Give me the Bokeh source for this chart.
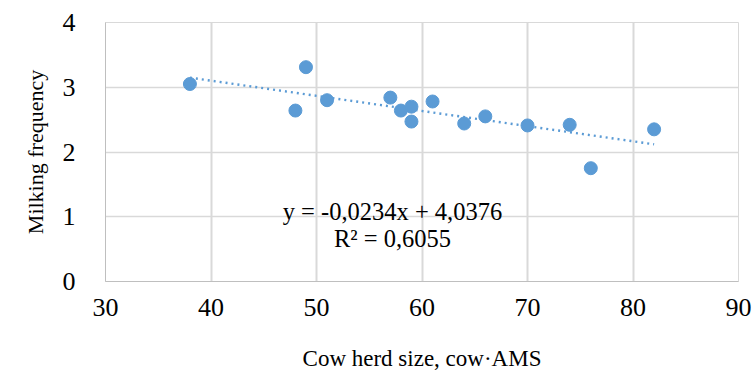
from bokeh.plotting import figure
from bokeh.models import Range1d, FixedTicker, Label, ColumnDataSource
from bokeh.embed import file_html
from bokeh.resources import INLINE

herd_size = [38, 49, 48, 51, 57, 58, 59, 59, 61, 64, 66, 70, 74, 76, 82]
milking_freq = [3.05, 3.31, 2.64, 2.80, 2.84, 2.64, 2.70, 2.47, 2.78, 2.44, 2.55, 2.41, 2.42, 1.75, 2.35]
slope = -0.0234
intercept = 4.0376
eq_text = "y = -0,0234x + 4,0376"
r2_text = "R² = 0,6055"
x_ticks = [30, 40, 50, 60, 70, 80, 90]
y_ticks = [0, 1, 2, 3, 4]

FONT = "Liberation Serif"
BLUE = "#5B9BD5"
GRID = "#D9D9D9"

p = figure(width=753, height=379, output_backend="svg", toolbar_location=None,
           x_range=Range1d(30, 90), y_range=Range1d(0, 4),
           min_border_left=105, min_border_right=15, min_border_top=22, min_border_bottom=98)
p.outline_line_color = GRID

trend_x = [min(herd_size), max(herd_size)]
trend_y = [slope * v + intercept for v in trend_x]
p.line(trend_x, trend_y, line_color=BLUE, line_width=2.4, line_dash="2 4")

src = ColumnDataSource(dict(x=herd_size, y=milking_freq))
p.scatter("x", "y", source=src, size=13, fill_color=BLUE, line_color=BLUE)

for ax in (p.xaxis[0], p.yaxis[0]):
    ax.major_tick_line_color = None
    ax.minor_tick_line_color = None
    ax.axis_line_color = "#BFBFBF"
    ax.major_label_text_font = FONT
    ax.major_label_text_font_size = "26px"
    ax.major_label_text_color = "#000000"
    ax.axis_label_text_font = FONT
    ax.axis_label_text_font_size = "23px"
    ax.axis_label_text_font_style = "normal"
    ax.axis_label_text_color = "#000000"

p.xaxis.ticker = FixedTicker(ticks=x_ticks)
p.yaxis.ticker = FixedTicker(ticks=y_ticks)
p.xaxis.axis_label = "Cow herd size, cow·AMS"
p.yaxis.axis_label = "Milking frequency"
p.yaxis.axis_label_text_font_size = "22px"
p.xaxis.major_label_standoff = 11
p.yaxis.major_label_standoff = 24
p.xaxis.axis_label_standoff = 27
p.yaxis.axis_label_standoff = 12

p.xgrid.ticker = FixedTicker(ticks=x_ticks)
p.ygrid.ticker = FixedTicker(ticks=y_ticks)
p.xgrid.grid_line_color = GRID
p.ygrid.grid_line_color = GRID
p.xgrid.grid_line_width = 2
p.ygrid.grid_line_width = 1.5

p.add_layout(Label(x=57.2, y=1.08, text=eq_text, text_font=FONT, text_font_size="24.5px",
                   text_align="center", text_baseline="middle", text_color="#000000"))
p.add_layout(Label(x=57.2, y=0.66, text=r2_text, text_font=FONT, text_font_size="24.5px",
                   text_align="center", text_baseline="middle", text_color="#000000"))

open("out.html", "w").write(file_html(p, INLINE))
